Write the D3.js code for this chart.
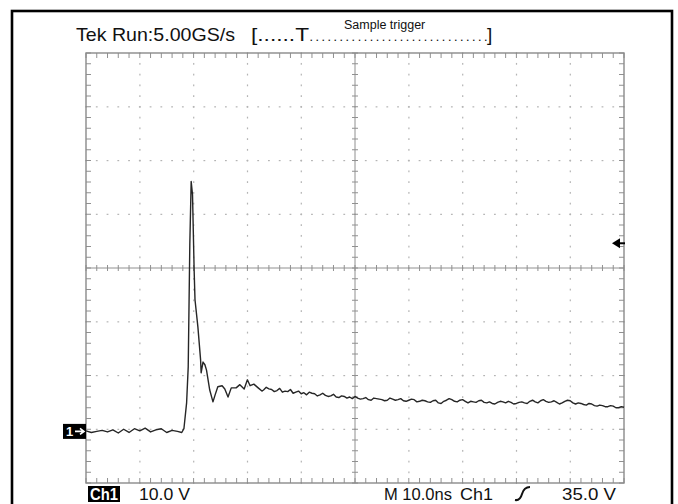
<!DOCTYPE html>
<html><head><meta charset="utf-8">
<script src="https://cdn.jsdelivr.net/npm/d3@7"></script>
<style>html,body{margin:0;padding:0;background:#fff;}svg{display:block;}</style>
</head><body>
<svg id="c" width="678" height="504"></svg>
<script>
// ---- data (time in ns, voltage in V relative to Ch1 ground) ----
const timeNs = [0,1,2,3,4,5,6,7,8,9,10,11,12,13,14,15,16,17,17.8,18.2,18.7,19.0,19.3,19.55,19.8,20.1,20.26,20.8,21.3,21.4,21.75,22.1,22.4,23.0,23.6,24.0,24.5,25.3,25.8,26.4,27.0,27.9,28.6,29.4,30.0,30.5,31.2,32.0,32.7,
  33,33.5,34,34.5,35,35.5,36,36.5,37,37.5,38,38.5,39,39.5,40,40.5,41,41.5,42,42.5,43,43.5,44,44.5,45,45.5,46,46.5,47,47.5,48,48.5,49,49.5,50,50.5,
  51,51.5,52,52.5,53,53.5,54,54.5,55,55.5,56,56.5,57,57.5,58,58.5,59,59.5,60,60.5,61,61.5,62,62.5,63,63.5,64,64.5,65,65.5,66,66.5,67,67.5,68,68.5,69,69.5,70,70.5,
  71,71.5,72,72.5,73,73.5,74,74.5,75,75.5,76,76.5,77,77.5,78,78.5,79,79.5,80,80.5,81,81.5,82,82.5,83,83.5,84,84.5,85,85.5,86,86.5,87,87.5,88,88.5,89,89.5,90,90.5,
  91,91.5,92,92.5,93,93.5,94,94.5,95,95.5,96,96.5,97,97.5,98,98.5,99,99.5,100];
const voltage = [0.1,-0.2,0.0,0.2,-0.1,0.3,-0.3,0.4,-0.2,0.5,0.1,0.6,-0.1,0.3,0.5,-0.2,0.2,0.0,-0.2,0.5,5.3,12,35,46.5,44,30,24.5,19.4,13.3,10.9,12.9,12.4,11.4,7.7,5.5,6.8,8.3,8.5,7.9,6.4,8.1,8.1,8.7,7.9,9.6,8.5,8.8,8.1,7.5,
  7.7,8.2,7.9,7.8,7.4,7.6,8.0,7.3,7.5,7.4,7.8,7.1,7.3,7.5,7.0,7.2,6.8,7.3,7.1,7.0,6.6,6.8,7.1,6.7,6.5,6.6,6.9,6.4,6.3,6.6,6.5,6.2,6.4,6.1,6.5,6.2,
  6.0,6.1,6.3,5.9,5.8,6.2,6.1,6.0,5.9,5.7,5.8,6.2,6.0,5.8,5.9,6.1,5.7,5.6,5.8,6.0,5.9,5.5,5.6,5.8,5.7,5.5,5.4,5.7,5.8,5.3,5.2,5.6,5.8,6.1,5.9,5.6,5.5,5.8,5.9,5.6,
  5.3,5.6,5.5,5.4,5.7,5.8,5.4,5.3,5.5,5.2,5.1,5.4,5.6,5.5,5.3,5.6,5.4,5.1,5.2,5.4,5.5,5.3,5.2,5.6,5.8,5.5,5.3,5.7,5.9,5.6,5.4,5.5,5.7,5.4,5.1,5.3,5.6,5.8,5.7,5.3,
  5.1,5.3,5.2,5.0,4.9,5.2,5.1,4.8,4.7,4.9,4.8,4.6,4.6,4.8,4.7,4.4,4.4,4.6,4.5];
const timeDomain = [0, 100];          // 10 ns/div, 10 divisions
const voltsPerDiv = 10;
const groundDiv = -3.04;               // ground marker position, divisions from centre
const triggerLevel = 35.0;
const headerText = "Tek Run:5.00GS/s";
const bracketOpen = "[......T";
const bracketDots = "..............................";
const bracketClose = "]";
const triggerMode = "Sample trigger";
const bottomLabels = ["10.0 V", "M 10.0ns", "Ch1", "35.0 V"];

// ---- layout ----
const svg = d3.select("#c");
const L = 86, R = 624, T = 53, B = 483;
const x = d3.scaleLinear().domain(timeDomain).range([L, R]);
const yDiv = d3.scaleLinear().domain([-4, 4]).range([B, T]);
const y = d3.scaleLinear()
  .domain([(-4 - groundDiv) * voltsPerDiv, (4 - groundDiv) * voltsPerDiv])
  .range([B, T]);
const xDivs = d3.range(0, 101, 10);
const yDivs = d3.range(-4, 5, 1);

// outer frame
svg.append("rect").attr("x", 12).attr("y", 11).attr("width", 660).attr("height", 510)
  .attr("fill", "none").attr("stroke", "#000").attr("stroke-width", 2.6);

const g = svg.append("g");
const gridCol = "#b4b4b4";
// dotted grid
xDivs.slice(1, -1).forEach(t => {
  if (t === 50) return;
  d3.range(-4, 4.001, 0.2).forEach(d => {
    g.append("rect").attr("x", x(t) - 0.5).attr("y", yDiv(d) - 0.8).attr("width", 1.2).attr("height", 1.8).attr("fill", gridCol);
  });
});
yDivs.slice(1, -1).forEach(d => {
  if (d === 0) return;
  d3.range(0, 100.001, 2).forEach(t => {
    g.append("rect").attr("x", x(t) - 0.9).attr("y", yDiv(d) - 0.5).attr("width", 1.8).attr("height", 1.2).attr("fill", gridCol);
  });
});
// centre lines with ticks
const ctr = "#909090";
g.append("line").attr("x1", L).attr("x2", R).attr("y1", yDiv(0)).attr("y2", yDiv(0)).attr("stroke", ctr).attr("stroke-width", 1);
g.append("line").attr("x1", x(50)).attr("x2", x(50)).attr("y1", T).attr("y2", B).attr("stroke", ctr).attr("stroke-width", 1);
d3.range(0, 100.001, 2).forEach(t => {
  g.append("line").attr("x1", x(t)).attr("x2", x(t)).attr("y1", yDiv(0) - 3).attr("y2", yDiv(0) + 3).attr("stroke", ctr).attr("stroke-width", 1);
  g.append("line").attr("x1", x(t)).attr("x2", x(t)).attr("y1", T).attr("y2", T + 5).attr("stroke", ctr).attr("stroke-width", 1);
  g.append("line").attr("x1", x(t)).attr("x2", x(t)).attr("y1", B).attr("y2", B - 5).attr("stroke", ctr).attr("stroke-width", 1);
});
d3.range(-4, 4.001, 0.2).forEach(d => {
  g.append("line").attr("x1", x(50) - 3).attr("x2", x(50) + 3).attr("y1", yDiv(d)).attr("y2", yDiv(d)).attr("stroke", ctr).attr("stroke-width", 1);
  g.append("line").attr("x1", L).attr("x2", L + 5).attr("y1", yDiv(d)).attr("y2", yDiv(d)).attr("stroke", ctr).attr("stroke-width", 1);
  g.append("line").attr("x1", R).attr("x2", R - 5).attr("y1", yDiv(d)).attr("y2", yDiv(d)).attr("stroke", ctr).attr("stroke-width", 1);
});
// graticule border
g.append("rect").attr("x", L).attr("y", T).attr("width", R - L).attr("height", B - T)
  .attr("fill", "none").attr("stroke", "#8a8a8a").attr("stroke-width", 1.4);

// trace
const pts = timeNs.map((t, i) => [t, voltage[i]]);
svg.append("path").datum(pts)
  .attr("d", d3.line().x(d => x(d[0])).y(d => y(d[1])))
  .attr("fill", "none").attr("stroke", "#262626").attr("stroke-width", 1.4).attr("stroke-linejoin", "round");

// ground marker
const gy = y(0);
svg.append("rect").attr("x", 63).attr("y", gy - 7.5).attr("width", 23).attr("height", 15).attr("fill", "#000");
svg.append("text").attr("x", 66).attr("y", gy + 5).attr("fill", "#fff").attr("font-family", "Liberation Sans, Arial, sans-serif").attr("font-size", 13).attr("font-weight", "bold").text("1");
svg.append("path").attr("d", `M75,${gy} L84,${gy} M80,${gy - 3} L84,${gy} L80,${gy + 3}`).attr("stroke", "#fff").attr("stroke-width", 1.6).attr("fill", "none");

// trigger level arrow
const ty = y(triggerLevel);
svg.append("path").attr("d", `M612,${ty} L620,${ty - 5} L620,${ty + 5} Z`).attr("fill", "#000");
svg.append("line").attr("x1", 618).attr("x2", 625).attr("y1", ty).attr("y2", ty).attr("stroke", "#000").attr("stroke-width", 2);

// header
const font = "Liberation Sans, Arial, Helvetica, sans-serif";
svg.append("text").attr("x", 76).attr("y", 41).attr("font-family", font).attr("font-size", 19).attr("fill", "#111")
  .attr("textLength", 159).attr("lengthAdjust", "spacingAndGlyphs").text(headerText);
svg.append("text").attr("x", 251).attr("y", 41).attr("font-family", font).attr("font-size", 19).attr("fill", "#111")
  .attr("textLength", 58).attr("lengthAdjust", "spacingAndGlyphs").text(bracketOpen);
svg.append("text").attr("x", 310).attr("y", 41).attr("font-family", font).attr("font-size", 9).attr("font-weight", "bold").attr("fill", "#111")
  .attr("textLength", 177).attr("lengthAdjust", "spacing").text(bracketDots);
svg.append("text").attr("x", 487).attr("y", 41).attr("font-family", font).attr("font-size", 19).attr("fill", "#111")
  .text(bracketClose);
svg.append("text").attr("x", 344).attr("y", 29).attr("font-family", font).attr("font-size", 12.5).attr("fill", "#111")
  .text(triggerMode);

// bottom labels
svg.append("rect").attr("x", 88).attr("y", 486).attr("width", 32).attr("height", 16).attr("fill", "#000");
svg.append("text").attr("x", 90).attr("y", 500).attr("font-family", font).attr("font-size", 17).attr("font-weight", "bold").attr("fill", "#fff")
  .attr("textLength", 28).attr("lengthAdjust", "spacingAndGlyphs").text("Ch1");
const bl = [[139, 51], [384, 68], [460, 33], [562, 54]];
bottomLabels.forEach((s, i) => {
  svg.append("text").attr("x", bl[i][0]).attr("y", 500).attr("font-family", font).attr("font-size", 17).attr("fill", "#111")
    .attr("textLength", bl[i][1]).attr("lengthAdjust", "spacingAndGlyphs").text(s);
});
// rising-edge symbol
svg.append("path").attr("d", "M515,500 Q520,501 522,494 Q524,487 530,487").attr("fill", "none").attr("stroke", "#111").attr("stroke-width", 2);
</script>
</body></html>
